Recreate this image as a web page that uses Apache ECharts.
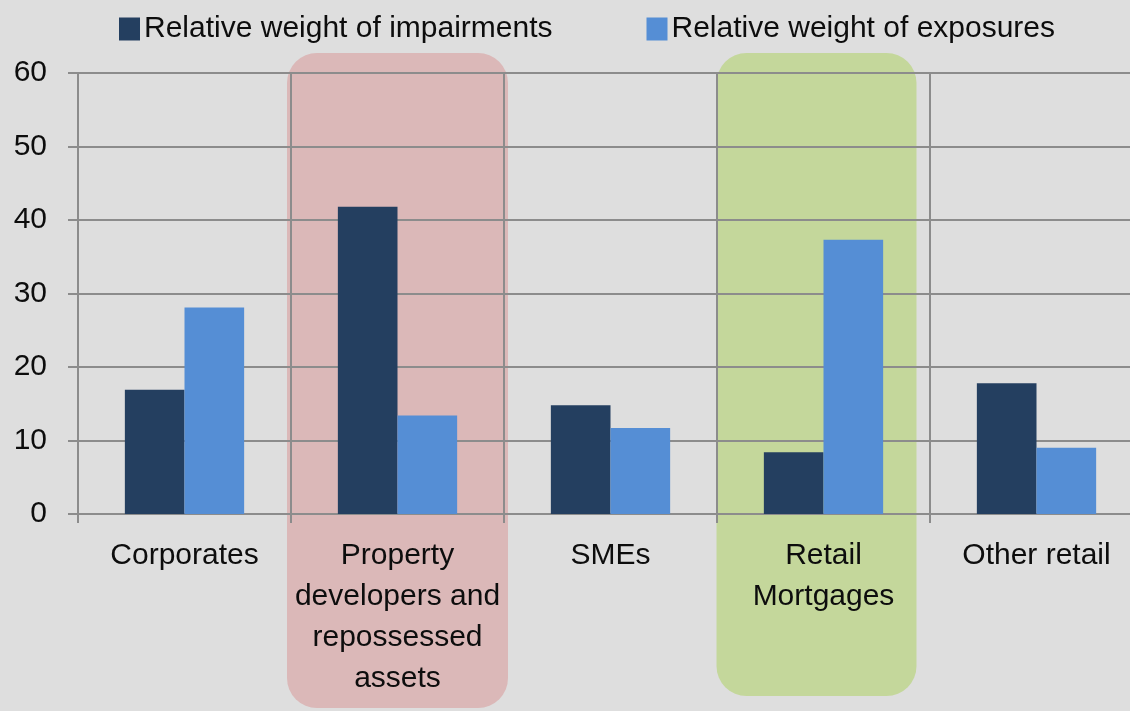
<html lang="en">
<head>
    <meta charset="UTF-8">
    <title>Impairments vs exposures</title>
    <script src="https://cdn.jsdelivr.net/npm/echarts@6.0.0/dist/echarts.min.js"></script>
    <style>
        html, body { margin: 0; padding: 0; background: #dedede; }
        #my-chart { width: 1130px; height: 711px; }
    </style>
</head>
<body>
    <div id="my-chart"></div>
    <script>
        // data
        const categories = ['Corporates', 'Property\ndevelopers and\nrepossessed\nassets', 'SMEs', 'Retail\nMortgages', 'Other retail'];
        const seriesNames = ['Relative weight of impairments', 'Relative weight of exposures'];
        const impairments = [16.9, 41.8, 14.8, 8.4, 17.8];
        const exposures = [28.1, 13.4, 11.7, 37.3, 9.0];
        const yTicks = [0, 10, 20, 30, 40, 50, 60];

        // highlighted categories (index, colour, offset, width, bottom)
        const highlights = [
            { idx: 1, color: '#dbb8b8', dx: 0, width: 221, bottom: 708 },
            { idx: 3, color: '#c4d79b', dx: -7, width: 200, bottom: 696 }
        ];

        const font = "'Liberation Sans', Arial, sans-serif";
        const textColor = '#0d0d0d';
        const gridColor = '#8c8c8c';

        var chartDom = document.getElementById('my-chart');
        var myChart = echarts.init(chartDom);

        let option = {
            backgroundColor: '#dedede',
            animation: false,
            textStyle: { fontFamily: font },
            legend: {
                top: 9,
                left: 114,
                itemWidth: 21,
                itemHeight: 23,
                itemGap: 94,
                icon: 'rect',
                textStyle: { fontSize: 30, color: textColor, padding: [0, 0, 0, -1], fontFamily: font },
                data: seriesNames
            },
            grid: {
                left: 78,
                width: 1065,
                top: 73,
                bottom: 197,
                containLabel: false,
                outerBoundsMode: 'none'
            },
            xAxis: {
                type: 'category',
                data: categories,
                boundaryGap: true,
                axisLine: { lineStyle: { color: gridColor, width: 2 } },
                axisTick: { show: true, length: 9, lineStyle: { color: gridColor, width: 2 } },
                splitLine: { show: true, lineStyle: { color: gridColor, width: 2 } },
                axisLabel: {
                    interval: 0,
                    margin: 21,
                    fontSize: 30,
                    lineHeight: 41,
                    color: textColor,
                    fontFamily: font
                }
            },
            yAxis: {
                type: 'value',
                min: yTicks[0],
                max: yTicks[yTicks.length - 1],
                interval: 10,
                axisLine: { show: true, lineStyle: { color: gridColor, width: 2 } },
                axisTick: { show: true, length: 10, lineStyle: { color: gridColor, width: 2 } },
                splitLine: { show: true, lineStyle: { color: gridColor, width: 2 } },
                axisLabel: { margin: 31, fontSize: 30, color: textColor, fontFamily: font }
            },
            series: [
                {
                    name: seriesNames[0],
                    type: 'bar',
                    data: impairments,
                    barGap: '0%',
                    barCategoryGap: '44%',
                    itemStyle: { color: '#243f60' }
                },
                {
                    name: seriesNames[1],
                    type: 'bar',
                    data: exposures,
                    itemStyle: { color: '#558ed5' }
                }
            ]
        };

        myChart.setOption(option);

        // rounded highlight boxes placed from the category axis
        let topY = myChart.convertToPixel({ yAxisIndex: 0 }, yTicks[yTicks.length - 1]) - 20;
        let rects = highlights.map(function (h) {
            let cx = myChart.convertToPixel({ xAxisIndex: 0 }, h.idx) + h.dx;
            return {
                type: 'rect',
                z: -10,
                silent: true,
                shape: { x: cx - h.width / 2, y: topY, width: h.width, height: h.bottom - topY, r: 30 },
                style: { fill: h.color }
            };
        });
        myChart.setOption({ graphic: rects });
    </script>
</body>
</html>
